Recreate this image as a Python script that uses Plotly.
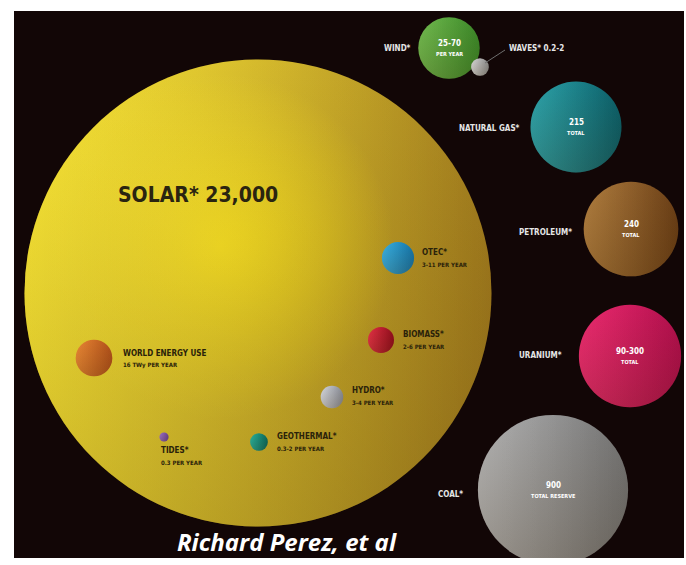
import plotly.graph_objects as go

# Energy resources in TW-years: renewables per year, finite resources as total reserves
sources = ["SOLAR", "WIND", "WAVES", "NATURAL GAS", "PETROLEUM", "URANIUM", "COAL",
           "OTEC", "BIOMASS", "HYDRO", "GEOTHERMAL", "TIDES", "WORLD ENERGY USE"]
reserve_tw = [23000, 70, 2, 215, 240, 300, 900, 11, 6, 4, 2, 0.3, 16]
value_text = ["23,000", "25-70", "0.2-2", "215", "240", "90-300", "900",
              "3-11", "2-6", "3-4", "0.3-2", "0.3", "16 TWy"]
unit_text = ["", "PER YEAR", "", "TOTAL", "TOTAL", "TOTAL", "TOTAL RESERVE",
             "PER YEAR", "PER YEAR", "PER YEAR", "PER YEAR", "PER YEAR", "PER YEAR"]
credit = "Richard Perez, et al"

# ---- layout (page pixel coordinates) ----
pos_x = [258, 449, 480, 576, 631, 630, 553, 398, 381, 332, 259, 164, 94]
pos_y = [293, 48, 67, 127, 229, 356, 490, 258, 340, 397, 442, 437, 358]
# label style: title / inside (name on the left, value inside) / leader / beside / below
label_style = ["title", "inside", "leader", "inside", "inside", "inside", "inside",
               "beside", "beside", "beside", "beside", "below", "beside"]
label_x = [198, 413, 507, 522, 574, 564, 465, 420, 401, 350, 275, 159, 121]
label_y = [195, 48, 48, 128, 232, 355, 494, 252, 334, 390, 436, 450, 353]
fill_left = ["#fae200", "#62b43c", "#d2d2d2", "#169aa2", "#a8702a", "#ea1460", "#aaaaaa",
             "#22a8e0", "#e01a30", "#d0d4dc", "#10a890", "#9060c0", "#e87a1e"]
fill_right = ["#a27c1e", "#3a8828", "#8a8a8a", "#0a5e68", "#6a3e16", "#b00e4c", "#727272",
              "#1474a8", "#900c1c", "#868a94", "#08685a", "#6a4090", "#b0501a"]
highlight = ["rgba(255,248,190,0.28)"] + ["rgba(255,255,255,0.10)"] * 12

SOLAR_DIAM = 467
SCALE_EXP = 0.35
diam = [SOLAR_DIAM * (v / reserve_tw[0]) ** SCALE_EXP for v in reserve_tw]

LABEL_FONT = "DejaVu Sans Condensed, Liberation Sans Narrow, Roboto, sans-serif"
DARK_TXT = "#2a220a"

fig = go.Figure()


def sphere_layer(x, y, d, color, grad_type, grad_color):
    fig.add_trace(go.Scatter(
        x=[x], y=[y], mode="markers", hoverinfo="skip",
        marker=dict(size=d, sizemode="diameter", color=color, line=dict(width=0),
                    gradient=dict(type=grad_type, color=grad_color)),
    ))


for i in range(len(sources)):
    # base colour: lighter on the left, darker on the right
    sphere_layer(pos_x[i], pos_y[i], diam[i], fill_left[i], "horizontal", fill_right[i])
    if i == 0:
        # warm glow in the upper-left part of the solar sphere
        sphere_layer(pos_x[0] - diam[0] * 0.08, pos_y[0] - diam[0] * 0.10, diam[0] * 0.74,
                     "rgba(255,230,0,0)", "radial", "rgba(255,228,0,0.85)")
    # soft highlight on the left side
    sphere_layer(pos_x[i], pos_y[i], diam[i], highlight[i], "horizontal",
                 "rgba(255,255,255,0)")
    # shading towards the bottom
    sphere_layer(pos_x[i], pos_y[i], diam[i], "rgba(60,35,0,0)", "vertical",
                 "rgba(60,35,0,0.22)")

annotations = []


def add_text(x, y, text, size, color, anchor="left", family=LABEL_FONT):
    annotations.append(dict(x=x, y=y, xref="x", yref="y", text=text, showarrow=False,
                            xanchor=anchor, yanchor="middle",
                            font=dict(family=family, size=size, color=color)))


shapes = [
    # the waves label leader line
    dict(type="line", xref="x", yref="y", x0=pos_x[2] + 5, y0=pos_y[2] - 4,
         x1=label_x[2] - 2, y1=label_y[2] + 2, line=dict(color="#6e6e6e", width=1)),
]

for i, name in enumerate(sources):
    style = label_style[i]
    star = "" if name == "WORLD ENERGY USE" else "*"
    if style == "title":
        add_text(label_x[i], label_y[i], f"<b>{name}* {value_text[i]}</b>", 21, "#2a2410",
                 anchor="center")
    elif style == "inside":
        add_text(label_x[i], label_y[i], f"<b>{name}{star}</b>", 8, "#e6e6e6", anchor="right")
        add_text(pos_x[i], pos_y[i] - 5, f"<b>{value_text[i]}</b>", 8, "#ffffff", anchor="center")
        add_text(pos_x[i], pos_y[i] + 6, f"<b>{unit_text[i]}</b>", 5.5, "#ffffff", anchor="center")
    elif style == "leader":
        add_text(label_x[i], label_y[i], f"<b>{name}{star} {value_text[i]}</b>", 8, "#e6e6e6")
    else:
        add_text(label_x[i], label_y[i], f"<b>{name}{star}</b>", 8, DARK_TXT)
        add_text(label_x[i], label_y[i] + 12, f"<b>{value_text[i]} {unit_text[i]}</b>",
                 6, DARK_TXT)

annotations.append(dict(x=287, y=541, xref="x", yref="y", text=f"<b><i>{credit}</i></b>",
                        showarrow=False, xanchor="center", yanchor="middle",
                        font=dict(family="Open Sans, Liberation Sans, sans-serif",
                                  size=24, color="#ffffff")))

fig.update_layout(
    width=686, height=565,
    margin=dict(l=14, r=2, t=11, b=7),
    paper_bgcolor="#ffffff", plot_bgcolor="#120606",
    showlegend=False,
    xaxis=dict(range=[14, 684], visible=False, fixedrange=True),
    yaxis=dict(range=[558, 11], visible=False, fixedrange=True),
    annotations=annotations, shapes=shapes,
)

fig.write_html("out.html")
